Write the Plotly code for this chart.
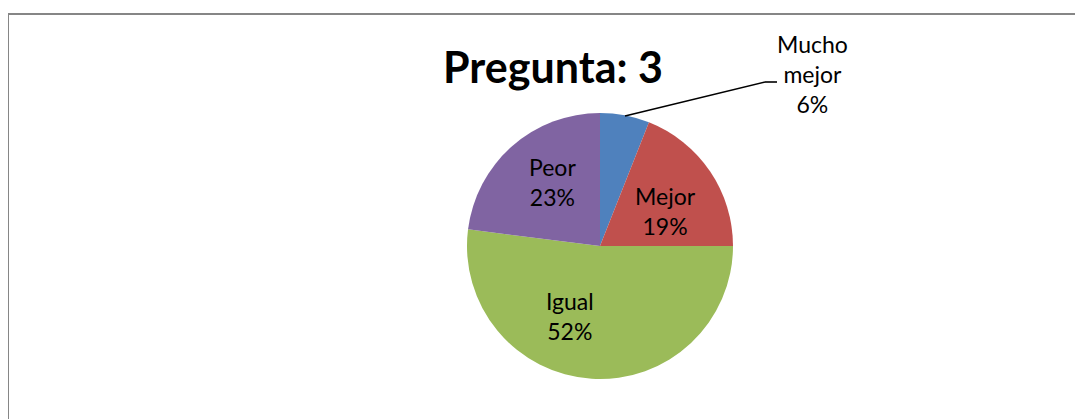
import plotly.graph_objects as go

OFF = 8  # page body margin in the browser
W, H = 1083 - OFF, 419 - OFF

labels = ["Mucho mejor", "Mejor", "Igual", "Peor"]
values = [6, 19, 52, 23]
colors = ["#4F81BD", "#C0504D", "#9BBB59", "#8064A2"]

FONT = "Lato"

# pie placement in page pixels (center / radius)
cx, cy, r = 600, 246, 133


def px(x):
    return (x - OFF) / W


def py(y):
    return 1 - (y - OFF) / H


fig = go.Figure()

fig.add_trace(go.Pie(
    labels=labels,
    values=values,
    sort=False,
    direction="clockwise",
    rotation=0,
    marker=dict(colors=colors, line=dict(width=0)),
    textinfo="none",
    domain=dict(x=[px(cx - r), px(cx + r)], y=[py(cy + r), py(cy - r)]),
    showlegend=False,
    hoverinfo="label+percent",
))

# data labels, placed like the original (page pixel centers)
label_pos = {
    "Mucho mejor": (812, 74),
    "Mejor": (665, 211),
    "Igual": (570, 316),
    "Peor": (552, 182),
}
for lab, val in zip(labels, values):
    x, y = label_pos[lab]
    fig.add_annotation(
        text=lab.replace(" ", "<br>") + f"<br>{val}%",
        x=px(x), y=py(y), xref="paper", yref="paper",
        xanchor="center", yanchor="middle",
        showarrow=False, align="center",
        font=dict(family=FONT, size=23, color="#000000"),
    )

# leader line for the small slice
fig.add_shape(type="line", xref="paper", yref="paper",
              x0=px(625), y0=py(116), x1=px(765), y1=py(82),
              line=dict(color="#000000", width=1.6))
fig.add_shape(type="line", xref="paper", yref="paper",
              x0=px(765), y0=py(82), x1=px(777), y1=py(82),
              line=dict(color="#000000", width=1.6))

# chart border (right and bottom edges fall outside the view)
fig.add_shape(type="rect", xref="paper", yref="paper",
              x0=px(8), y0=py(H + 60), x1=px(W + 60), y1=py(14),
              line=dict(color="#868686", width=2))

fig.update_layout(
    width=W, height=H,
    title=dict(
        text="<b>Pregunta: 3</b>",
        font=dict(family=FONT, size=43, color="#000000"),
        x=px(553), xanchor="center",
        y=py(68), yanchor="middle",
    ),
    margin=dict(l=0, r=0, t=0, b=0),
    paper_bgcolor="#FFFFFF",
    plot_bgcolor="#FFFFFF",
)

fig.write_html("out.html")
